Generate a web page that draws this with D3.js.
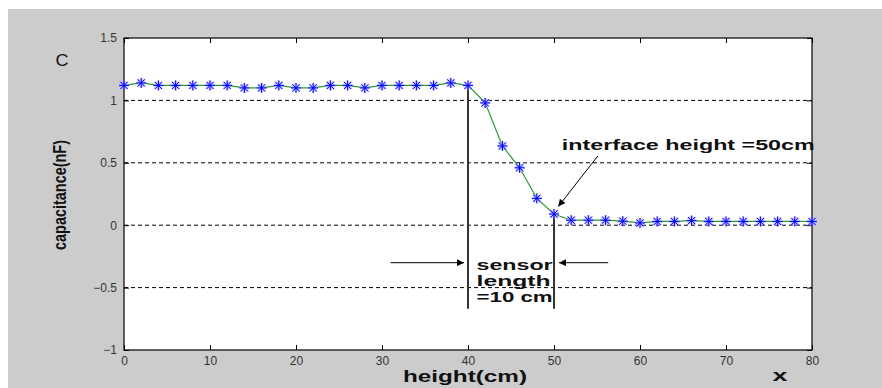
<!DOCTYPE html>
<html>
<head>
<meta charset="utf-8">
<script src="https://cdn.jsdelivr.net/npm/d3@7"></script>
<style>
  body { margin: 0; background: #fff; }
  svg { display: block; }
  text { font-family: "Liberation Sans", Arial, sans-serif; }
</style>
</head>
<body>
<div id="chart"></div>
<script>
// data
const heights = [0, 2, 4, 6, 8, 10, 12, 14, 16, 18, 20, 22, 24, 26, 28, 30, 32, 34, 36, 38, 40,
  42, 44, 46, 48, 50, 52, 54, 56, 58, 60, 62, 64, 66, 68, 70, 72, 74, 76, 78, 80];
const capacitance = [1.12, 1.14, 1.12, 1.12, 1.12, 1.12, 1.12, 1.10, 1.10, 1.12, 1.10, 1.10, 1.12, 1.12, 1.10, 1.12, 1.12, 1.12, 1.12, 1.14, 1.12,
  0.98, 0.635, 0.46, 0.215, 0.09, 0.04, 0.04, 0.04, 0.032, 0.018, 0.03, 0.03, 0.037, 0.03, 0.03, 0.03, 0.03, 0.03, 0.03, 0.03];
const xTicks = [0, 10, 20, 30, 40, 50, 60, 70, 80];
const yTicks = [-1, -0.5, 0, 0.5, 1, 1.5];
const gridLevels = [-0.5, 0, 0.5, 1];
const sensorStart = 40;
const sensorEnd = 50;

const W = 882, H = 388;
const margin = { top: 38, right: 70, bottom: 38, left: 124 };
const width = W - margin.left - margin.right;
const height = H - margin.top - margin.bottom;

const svg = d3.select('#chart').append('svg')
  .attr('width', W)
  .attr('height', H);

// grey figure background
svg.append('rect')
  .attr('x', 8).attr('y', 9)
  .attr('width', W - 8).attr('height', H - 9)
  .attr('fill', '#cccccc');

const g = svg.append('g')
  .attr('transform', `translate(${margin.left},${margin.top})`);

const x = d3.scaleLinear().domain([0, 80]).range([0, width]);
const y = d3.scaleLinear().domain([-1, 1.5]).range([height, 0]);

// plot area
g.append('rect')
  .attr('width', width).attr('height', height)
  .attr('fill', '#fff');

// dashed grid
g.selectAll('.grid')
  .data(gridLevels)
  .enter().append('line')
  .attr('class', 'grid')
  .attr('x1', 0).attr('x2', width)
  .attr('y1', d => y(d)).attr('y2', d => y(d))
  .attr('stroke', '#000')
  .attr('stroke-width', 1)
  .attr('stroke-dasharray', '4,3');

// axes with inward ticks
const styleAxis = sel => {
  sel.select('.domain').remove();
  sel.selectAll('.tick line').attr('stroke', '#000');
  sel.selectAll('.tick text')
    .attr('fill', '#333')
    .style('font-size', '12px')
    .style('font-family', '"Liberation Sans", Arial, sans-serif');
};

g.append('g')
  .attr('transform', `translate(0,${height})`)
  .call(d3.axisBottom(x).tickValues(xTicks).tickSize(-5).tickPadding(6))
  .call(styleAxis);

g.append('g')
  .call(d3.axisTop(x).tickValues(xTicks).tickSize(-5).tickFormat(''))
  .call(styleAxis);

g.append('g')
  .call(d3.axisLeft(y).tickValues(yTicks).tickSize(-5).tickPadding(7).tickFormat(d3.format('')))
  .call(styleAxis);

g.append('g')
  .attr('transform', `translate(${width},0)`)
  .call(d3.axisRight(y).tickValues(yTicks).tickSize(-5).tickFormat(''))
  .call(styleAxis);

// box
g.append('rect')
  .attr('width', width).attr('height', height)
  .attr('fill', 'none')
  .attr('stroke', '#000')
  .attr('stroke-width', 1.2);

// sensor boundary lines
const pts = heights.map((h, i) => ({ h, c: capacitance[i] }));
const valueAt = h => pts.find(p => p.h === h).c;
const lineBottom = -0.67;

g.selectAll('.sensor')
  .data([sensorStart, sensorEnd])
  .enter().append('line')
  .attr('x1', d => x(d)).attr('x2', d => x(d))
  .attr('y1', d => y(valueAt(d))).attr('y2', y(lineBottom))
  .attr('stroke', '#333')
  .attr('stroke-width', 2);

// data line
g.append('path')
  .datum(pts)
  .attr('fill', 'none')
  .attr('stroke', '#2e9a2e')
  .attr('stroke-width', 1.2)
  .attr('d', d3.line().x(d => x(d.h)).y(d => y(d.c)));

// asterisk markers
const star = 'M-5,0L5,0M0,-5L0,5M-3.6,-3.6L3.6,3.6M-3.6,3.6L3.6,-3.6';
const markers = g.selectAll('.mk')
  .data(pts)
  .enter().append('g')
  .attr('transform', d => `translate(${x(d.h)},${y(d.c)})`);
markers.append('path')
  .attr('d', star)
  .attr('stroke', '#aaaaff')
  .attr('stroke-width', 2.4)
  .attr('opacity', 0.7);
markers.append('path')
  .attr('d', star)
  .attr('stroke', '#0000ff')
  .attr('stroke-width', 1);

// arrow markers
const defs = svg.append('defs');
defs.append('marker')
  .attr('id', 'arrow')
  .attr('viewBox', '0 0 10 10')
  .attr('refX', 10).attr('refY', 5)
  .attr('markerWidth', 10).attr('markerHeight', 7)
  .attr('markerUnits', 'userSpaceOnUse')
  .attr('orient', 'auto')
  .append('path')
  .attr('d', 'M0,0L10,5L0,10Z')
  .attr('fill', '#000');

// sensor length arrows
const arrowY = y(-0.3);
g.append('line')
  .attr('x1', x(31)).attr('x2', x(sensorStart) - 4)
  .attr('y1', arrowY).attr('y2', arrowY)
  .attr('stroke', '#333').attr('stroke-width', 1.2)
  .attr('marker-end', 'url(#arrow)');
g.append('line')
  .attr('x1', x(56.3)).attr('x2', x(sensorEnd) + 5)
  .attr('y1', arrowY).attr('y2', arrowY)
  .attr('stroke', '#333').attr('stroke-width', 1.2)
  .attr('marker-end', 'url(#arrow)');

// interface arrow
g.append('line')
  .attr('x1', x(55.1)).attr('y1', y(0.555))
  .attr('x2', x(50.5)).attr('y2', y(0.15))
  .attr('stroke', '#000').attr('stroke-width', 1)
  .attr('marker-end', 'url(#arrow)');

// annotations
const bold = sel => sel
  .attr('lengthAdjust', 'spacingAndGlyphs')
  .style('font-weight', 'bold')
  .attr('fill', '#111');

g.append('text')
  .attr('x', x(50.9)).attr('y', y(0.6))
  .attr('textLength', 253)
  .style('font-size', '15px')
  .call(bold)
  .text('interface height =50cm');

const sensorLines = ['sensor', 'length', '=10 cm'];
const sensorLens = [76, 74, 76];
g.selectAll('.slab')
  .data(sensorLines)
  .enter().append('text')
  .attr('x', x(41)).attr('y', (d, i) => y(-0.36) + i * 16)
  .attr('textLength', (d, i) => sensorLens[i])
  .style('font-size', '15px')
  .call(bold)
  .text(d => d);

// axis labels
svg.append('text')
  .attr('x', 465).attr('y', 382)
  .attr('text-anchor', 'middle')
  .attr('textLength', 124)
  .style('font-size', '17px')
  .call(bold)
  .text('height(cm)');

svg.append('text')
  .attr('x', 780).attr('y', 381)
  .attr('text-anchor', 'middle')
  .attr('textLength', 15)
  .style('font-size', '17px')
  .call(bold)
  .text('x');

svg.append('text')
  .attr('transform', 'translate(66,195) rotate(-90)')
  .attr('text-anchor', 'middle')
  .attr('textLength', 110)
  .style('font-size', '18px')
  .call(bold)
  .text('capacitance(nF)');

svg.append('text')
  .attr('x', 62).attr('y', 66)
  .attr('text-anchor', 'middle')
  .attr('textLength', 13)
  .attr('lengthAdjust', 'spacingAndGlyphs')
  .style('font-size', '16px')
  .attr('fill', '#111')
  .text('C');
</script>
</body>
</html>
